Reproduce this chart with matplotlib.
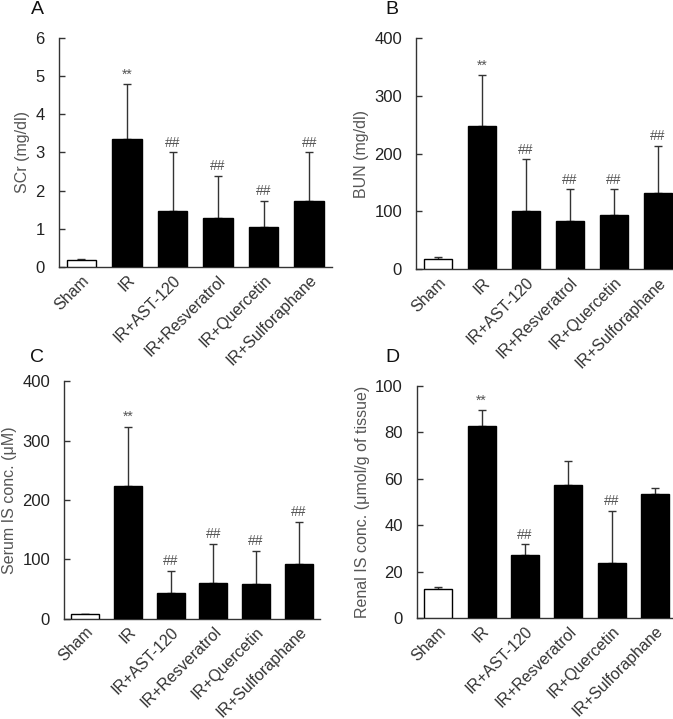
import numpy as np
import matplotlib
matplotlib.use('Agg')
import matplotlib.pyplot as plt

plt.rcParams['font.family'] = ['Liberation Sans', 'DejaVu Sans']

groups = ['Sham', 'IR', 'IR+AST-120', 'IR+Resveratrol', 'IR+Quercetin', 'IR+Sulforaphane']

# A: serum creatinine
scr_mean = [0.18, 3.35, 1.47, 1.27, 1.05, 1.73]
scr_err = [0.03, 1.43, 1.53, 1.11, 0.68, 1.27]
scr_mark = ['', '**', '##', '##', '##', '##']

# B: BUN
bun_mean = [17, 248, 100, 83, 94, 131]
bun_err = [4, 87, 90, 55, 44, 82]
bun_mark = ['', '**', '##', '##', '##', '##']

# C: serum IS
sis_mean = [7.4, 223, 43, 60, 58.5, 92.6]
sis_err = [1.0, 100, 37, 66, 55.5, 70]
sis_mark = ['', '**', '##', '##', '##', '##']

# D: renal IS
ris_mean = [12.5, 82.6, 27.1, 57.1, 23.7, 53.4]
ris_err = [0.7, 6.9, 4.6, 10.5, 22.5, 2.4]
ris_mark = ['', '**', '##', '', '##', '']

panels = [
    # letter, rect (px: left, top, width, height), mean, err, marks, ylim, step, ylabel
    ('A', (58.7, 37.7, 273.3, 229.3), scr_mean, scr_err, scr_mark, 6, 1, 'SCr (mg/dl)'),
    ('B', (416.0, 37.7, 264.0, 231.6), bun_mean, bun_err, bun_mark, 400, 100, 'BUN (mg/dl)'),
    ('C', (64.0, 381.3, 256.0, 237.4), sis_mean, sis_err, sis_mark, 400, 100, 'Serum IS conc. (\u03bcM)'),
    ('D', (416.7, 385.7, 260.0, 232.3), ris_mean, ris_err, ris_mark, 100, 20, 'Renal IS conc. (\u03bcmol/g of tissue)'),
]

W, H = 673, 719
fig = plt.figure(figsize=(W / 100, H / 100), dpi=100)

for letter, (l, t, w, h), mean, err, mark, ymax, step, ylabel in panels:
    ax = fig.add_axes([l / W, (H - t - h) / H, w / W, h / H])
    x = np.arange(len(groups))
    colors = ['white'] + ['black'] * 5
    ax.bar(x, mean, width=0.65, color=colors, edgecolor='black', linewidth=1.0, zorder=3)
    ax.errorbar(x, mean, yerr=[np.zeros(len(err)), err], fmt='none', ecolor='#333333',
                elinewidth=1.0, capsize=3, capthick=1.0, zorder=2)
    for xi, m, e, s in zip(x, mean, err, mark):
        if s:
            ax.annotate(s, (xi, m + e), xytext=(0, 2), textcoords='offset points',
                        ha='center', va='bottom', fontsize=10, color='#555555')
    ax.set_xlim(-0.5, len(groups) - 0.5)
    ax.set_ylim(0, ymax)
    ax.set_yticks(np.arange(0, ymax + step / 2, step))
    ax.set_xticks(x)
    ax.set_xticklabels(groups, rotation=45, ha='right', rotation_mode='anchor',
                       fontsize=11.5, color='#333333')
    ax.tick_params(axis='x', length=0, pad=4)
    ax.tick_params(axis='y', direction='in', length=4, width=1, labelsize=12,
                   labelcolor='#222222', color='#333333', pad=10)
    ax.set_ylabel(ylabel, fontsize=11.5, color='#555555', labelpad=4)
    for sp in ['top', 'right']:
        ax.spines[sp].set_visible(False)
    for sp in ['left', 'bottom']:
        ax.spines[sp].set_color('#333333')
        ax.spines[sp].set_linewidth(1.0)
    lx = 37 if letter in 'AC' else 392
    ly = 9 if letter in 'AB' else 357
    fig.text(lx / W, 1 - ly / H, letter, fontsize=14, ha='center', va='center', color='#111111')

fig.savefig('out.png', dpi=100)
